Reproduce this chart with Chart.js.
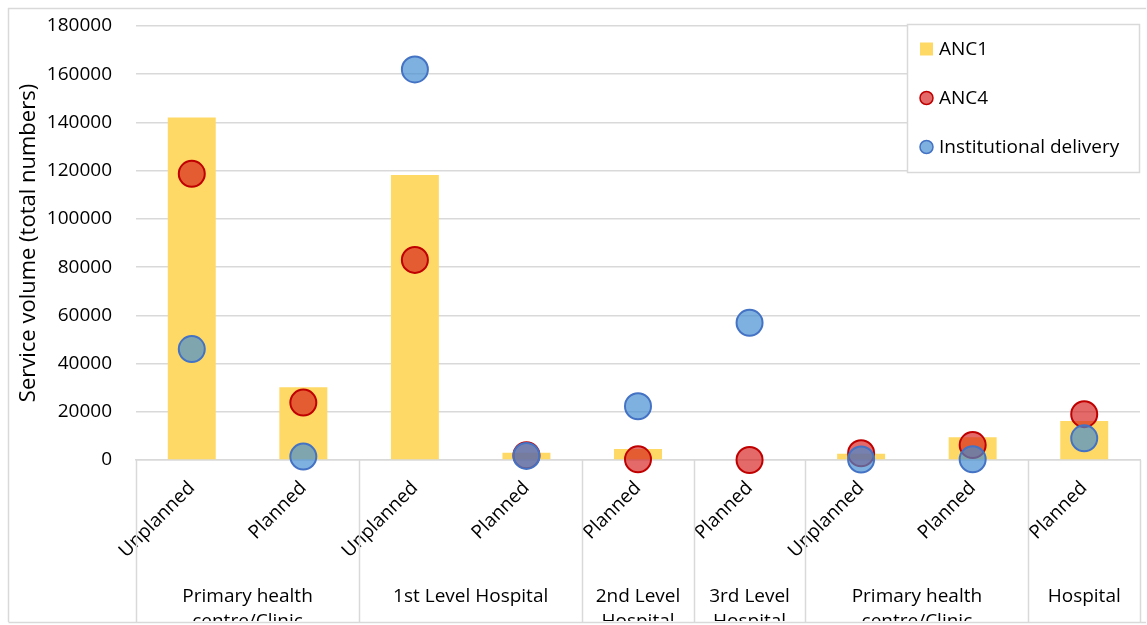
<!DOCTYPE html>
<html>
<head>
<meta charset="utf-8">
<script src="https://cdn.jsdelivr.net/npm/chart.js@4.4.1/dist/chart.umd.min.js"></script>
<style>
  html, body { margin: 0; padding: 0; background: #ffffff; }
  #wrap { position: relative; width: 1147px; height: 625px; }
</style>
</head>
<body>
<div id="wrap"><canvas id="chart" width="1147" height="625"></canvas></div>
<script>
// Facility level / planning status categories
const subLabels = ['Unplanned', 'Planned', 'Unplanned', 'Planned', 'Planned', 'Planned', 'Unplanned', 'Planned', 'Planned'];
// Group labels below the rotated sub-labels: [text lines, first index, last index]
const groupLabels = [
  [['Primary health', 'centre/Clinic'], 0, 1],
  [['1st Level Hospital'], 2, 3],
  [['2nd Level', 'Hospital'], 4, 4],
  [['3rd Level', 'Hospital'], 5, 5],
  [['Primary health', 'centre/Clinic'], 6, 7],
  [['Hospital'], 8, 8]
];

// Service volumes (total numbers)
const anc1 = [142000, 30200, 118200, 3000, 4600, 0, 2600, 9400, 16200];
const anc4 = [118700, 23800, 83000, 2000, 300, 0, 2800, 6200, 19000];
const institutionalDelivery = [46000, 1400, 162000, 1700, 22300, 56900, 200, 300, 9000];

const yTicks = { min: 0, max: 180000, step: 20000 };

const FONT = '"Open Sans", Lato, sans-serif';
const GRID = '#D9D9D9';

const ancColors = {
  anc1: '#FFD966',
  anc4Fill: 'rgba(212, 22, 20, 0.64)', anc4Border: '#C00000',
  instFill: 'rgba(66, 140, 210, 0.68)', instBorder: '#4472C4'
};

// Draws the group separators, the group names and the outer frame
const categoryGroups = {
  id: 'categoryGroups',
  afterDraw(chart) {
    const { ctx, chartArea, scales } = chart;
    const x = scales.x;
    const top = chartArea.bottom;
    const bottom = 622;
    const boundary = (i) => {
      if (i <= 0) return chartArea.left;
      if (i >= subLabels.length) return chartArea.right;
      return (x.getPixelForValue(i - 1) + x.getPixelForValue(i)) / 2;
    };
    ctx.save();
    ctx.strokeStyle = GRID;
    ctx.lineWidth = 1.5;
    const edges = new Set([0, subLabels.length]);
    groupLabels.forEach(g => { edges.add(g[1]); edges.add(g[2] + 1); });
    edges.forEach(i => {
      const px = Math.round(boundary(i)) + 0.5;
      ctx.beginPath();
      ctx.moveTo(px, top);
      ctx.lineTo(px, bottom);
      ctx.stroke();
    });

    ctx.beginPath();
    ctx.rect(0, 0, chart.width, bottom - 1);
    ctx.clip();
    ctx.fillStyle = '#000000';
    ctx.font = '19px ' + FONT;
    ctx.textAlign = 'center';
    ctx.textBaseline = 'middle';
    groupLabels.forEach(([lines, a, b]) => {
      const cx = (boundary(a) + boundary(b + 1)) / 2;
      lines.forEach((t, k) => ctx.fillText(t, cx, 597 + k * 25));
    });
    ctx.restore();

    // outer frame
    ctx.save();
    ctx.strokeStyle = GRID;
    ctx.lineWidth = 1.5;
    ctx.beginPath();
    ctx.moveTo(8.5, 622);
    ctx.lineTo(8.5, 8.5);
    ctx.lineTo(1146, 8.5);
    ctx.moveTo(8.5, 622.5);
    ctx.lineTo(1146, 622.5);
    ctx.stroke();
    ctx.restore();
  }
};

// Legend box drawn inside the plot area, top right
const insideLegend = {
  id: 'insideLegend',
  afterDraw(chart) {
    const { ctx } = chart;
    const box = { x: 907.5, y: 24.5, w: 232, h: 148 };
    ctx.save();
    ctx.fillStyle = '#ffffff';
    ctx.fillRect(box.x, box.y, box.w, box.h);
    ctx.strokeStyle = GRID;
    ctx.lineWidth = 1.5;
    ctx.strokeRect(box.x, box.y, box.w, box.h);
    const rows = [49, 98, 147];
    chart.data.datasets.forEach((ds, i) => {
      const cy = rows[i];
      const cx = 926.5;
      if (ds.type === 'bar') {
        ctx.fillStyle = ds.backgroundColor;
        ctx.fillRect(cx - 6.5, cy - 6.5, 13, 13);
      } else {
        ctx.beginPath();
        ctx.arc(cx, cy, 6.5, 0, Math.PI * 2);
        ctx.fillStyle = ds.backgroundColor;
        ctx.fill();
        ctx.lineWidth = 1.5;
        ctx.strokeStyle = ds.borderColor;
        ctx.stroke();
      }
      ctx.fillStyle = '#000000';
      ctx.font = '19px ' + FONT;
      ctx.textAlign = 'left';
      ctx.textBaseline = 'middle';
      ctx.fillText(ds.label, 939, cy + 1);
    });
    ctx.restore();
  }
};

function noScalePadding(scale) {
  scale.paddingTop = 0;
  scale.paddingBottom = 0;
  scale.paddingLeft = 0;
  scale.paddingRight = 0;
}

new Chart(document.getElementById('chart'), {
  data: {
    labels: subLabels,
    datasets: [
      {
        type: 'bar', label: 'ANC1', data: anc1,
        backgroundColor: ancColors.anc1, borderWidth: 0,
        categoryPercentage: 1, barPercentage: 0.43, order: 3
      },
      {
        type: 'line', label: 'ANC4', data: anc4, showLine: false,
        pointRadius: 13, pointHoverRadius: 13, pointBorderWidth: 2,
        backgroundColor: ancColors.anc4Fill, borderColor: ancColors.anc4Border,
        pointBackgroundColor: ancColors.anc4Fill, pointBorderColor: ancColors.anc4Border,
        order: 2, clip: false
      },
      {
        type: 'line', label: 'Institutional delivery', data: institutionalDelivery, showLine: false,
        pointRadius: 13, pointHoverRadius: 13, pointBorderWidth: 2,
        backgroundColor: ancColors.instFill, borderColor: ancColors.instBorder,
        pointBackgroundColor: ancColors.instFill, pointBorderColor: ancColors.instBorder,
        order: 1, clip: false
      }
    ]
  },
  options: {
    responsive: false,
    animation: false,
    layout: { autoPadding: false, padding: { left: 8, top: 26, right: 7, bottom: 0 } },
    plugins: { legend: { display: false }, tooltip: { enabled: false } },
    scales: {
      x: {
        type: 'category',
        offset: true,
        afterFit(scale) { scale.height = 165; noScalePadding(scale); },
        grid: { display: false },
        border: { display: true, color: GRID, width: 1.5 },
        ticks: {
          minRotation: 45, maxRotation: 45, autoSkip: false,
          padding: 9, color: '#000000',
          font: { family: FONT, size: 19 }
        }
      },
      y: {
        min: yTicks.min, max: yTicks.max,
        afterFit(scale) { scale.width = 128; noScalePadding(scale); },
        grid: { color: GRID, lineWidth: 1.5, drawTicks: false },
        border: { display: false },
        ticks: {
          stepSize: yTicks.step, padding: 24, color: '#000000',
          font: { family: FONT, size: 19 },
          callback: (v) => String(v)
        },
        title: {
          display: true, text: 'Service volume (total numbers)',
          color: '#000000', font: { family: FONT, size: 22 },
          padding: { top: 8, bottom: 0 }
        }
      }
    }
  },
  plugins: [categoryGroups, insideLegend]
});
</script>
</body>
</html>
